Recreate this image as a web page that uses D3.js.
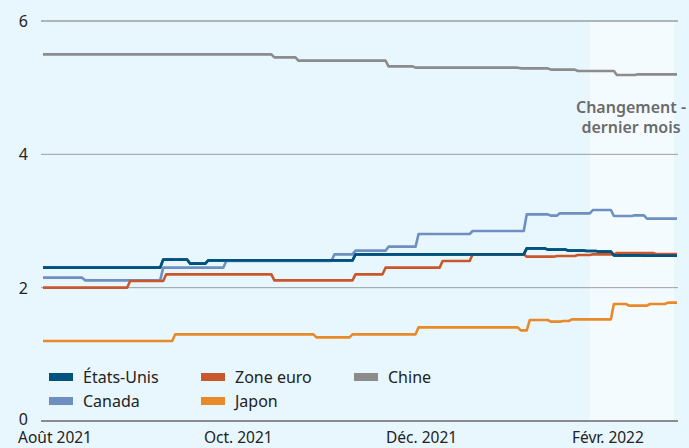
<!DOCTYPE html>
<html><head><meta charset="utf-8">
<script src="https://cdn.jsdelivr.net/npm/d3@7"></script>
<style>
html,body{margin:0;padding:0;background:#e8f6fd;}
svg{display:block;font-family:"Noto Sans",sans-serif;}
</style></head>
<body>
<svg id="chart" width="689" height="448"></svg>
<script>
// ---- data (change dates and levels, in %) ----
const startDate = "2021-07-28";
const endDate = "2022-02-24";
const bandStart = "2022-01-26";
const bandEnd = "2022-02-23";

const usDates   = ["2021-07-28","2021-09-05","2021-09-14","2021-09-20","2021-11-08","2022-01-04","2022-01-11","2022-01-18","2022-01-24","2022-01-28","2022-02-02","2022-02-12"];
const usValues  = [2.30,2.42,2.36,2.41,2.50,2.59,2.57,2.555,2.55,2.54,2.485,2.48];

const euroDates  = ["2021-07-28","2021-08-25","2021-09-06","2021-10-12","2021-11-08","2021-11-18","2021-12-07","2021-12-17","2022-01-04","2022-01-14","2022-01-21","2022-01-26","2022-02-03","2022-02-16"];
const euroValues = [2.00,2.10,2.20,2.11,2.20,2.30,2.40,2.50,2.465,2.475,2.49,2.50,2.52,2.505];

const chinaDates  = ["2021-07-28","2021-10-12","2021-10-20","2021-11-19","2021-11-28","2022-01-02","2022-01-12","2022-01-21","2022-02-03","2022-02-10"];
const chinaValues = [5.50,5.455,5.405,5.32,5.30,5.29,5.27,5.25,5.19,5.20];

const canadaDates  = ["2021-07-28","2021-08-10","2021-09-05","2021-09-26","2021-11-01","2021-11-08","2021-11-19","2021-11-29","2021-12-17","2022-01-04","2022-01-12","2022-01-15","2022-01-26","2022-02-02","2022-02-09","2022-02-13"];
const canadaValues = [2.15,2.11,2.30,2.40,2.50,2.555,2.615,2.805,2.85,3.10,3.08,3.115,3.165,3.075,3.085,3.035];

const japanDates  = ["2021-07-28","2021-09-09","2021-10-26","2021-11-07","2021-11-29","2022-01-02","2022-01-05","2022-01-12","2022-01-16","2022-01-19","2022-02-02","2022-02-07","2022-02-14","2022-02-20"];
const japanValues = [1.20,1.30,1.255,1.30,1.405,1.36,1.515,1.49,1.50,1.525,1.755,1.73,1.755,1.775];

const yTicks = [0,2,4,6];
const xTickDates  = ["2021-08-01","2021-10-01","2021-12-01","2022-02-01"];
const xTickLabels = ["Août 2021","Oct. 2021","Déc. 2021","Févr. 2022"];

const seriesNames  = ["États-Unis","Zone euro","Chine","Canada","Japon"];
const seriesColors = ["#00527e","#c9572b","#8c8c8c","#6f8fc0","#e8892a"];
const annotationLines = ["Changement -","dernier mois"];

// ---- build ----
const parse = d3.utcParse("%Y-%m-%d");
const svg = d3.select("#chart");
const x = d3.scaleUtc().domain([parse(startDate), parse(endDate)]).range([43, 677]);
const y = d3.scaleLinear().domain([0, 6]).range([421, 21]);

// highlight band
svg.append("rect")
  .attr("x", x(parse(bandStart))).attr("y", y(6) + 1)
  .attr("width", x(parse(bandEnd)) - x(parse(bandStart)))
  .attr("height", y(0) - y(6) - 1)
  .attr("fill", "#f4fbff");

// gridlines
svg.append("g").selectAll("line").data(yTicks.filter(d => d > 0)).join("line")
  .attr("x1", 41).attr("x2", 678)
  .attr("y1", d => y(d)).attr("y2", d => y(d))
  .attr("stroke", "#9a9fa4").attr("stroke-width", d => d === 6 ? 1.5 : 1);

// y tick labels
svg.append("g").selectAll("text").data(yTicks).join("text")
  .attr("x", 28).attr("y", d => y(d) + (d === 0 ? 4 : 6))
  .attr("text-anchor", "end").attr("font-size", 16).attr("fill", "#222")
  .text(d => d);

// series
const allSeries = [
  {dates: usDates, values: usValues, color: seriesColors[0]},
  {dates: canadaDates, values: canadaValues, color: seriesColors[3]},
  {dates: chinaDates, values: chinaValues, color: seriesColors[2]},
  {dates: euroDates, values: euroValues, color: seriesColors[1]},
  {dates: japanDates, values: japanValues, color: seriesColors[4]},
  {dates: usDates, values: usValues, color: seriesColors[0]}
];
const DAY = 86400000;
function stepPoints(dates, values) {
  const pts = [];
  for (let i = 0; i < dates.length; i++) {
    const d0 = parse(dates[i]);
    const start = i === 0 ? d0 : new Date(d0.getTime() + DAY);
    const end = i + 1 < dates.length ? parse(dates[i + 1]) : parse(endDate);
    pts.push([start, values[i]]);
    pts.push([end, values[i]]);
  }
  return pts;
}
const line = d3.line().x(p => x(p[0])).y(p => y(p[1]));
svg.append("g").selectAll("path").data(allSeries).join("path")
  .attr("d", s => line(stepPoints(s.dates, s.values)))
  .attr("fill", "none").attr("stroke", s => s.color)
  .attr("stroke-width", 2.6).attr("stroke-linejoin", "round");

// zero axis line
svg.append("line").attr("x1", 41).attr("x2", 678)
  .attr("y1", y(0)).attr("y2", y(0))
  .attr("stroke", "#8a8d90").attr("stroke-width", 2);

// x axis labels
svg.append("g").selectAll("text").data(xTickDates).join("text")
  .attr("x", d => x(parse(d))).attr("y", 443)
  .attr("text-anchor", "middle").attr("font-size", 15.5).attr("fill", "#222")
  .text((d, i) => xTickLabels[i]);

// annotation
svg.append("text").attr("x", 631).attr("y", 113)
  .attr("text-anchor", "middle").attr("font-size", 16).attr("font-weight", 600)
  .attr("fill", "#6b6b6b")
  .selectAll("tspan").data(annotationLines).join("tspan")
  .attr("x", 631).attr("dy", (d, i) => i === 0 ? 0 : 20).text(d => d);

// legend
const legendPos = [[49, 377], [201, 377], [354, 377], [49, 401], [201, 401]];
const lg = svg.append("g").selectAll("g").data(seriesNames).join("g")
  .attr("transform", (d, i) => `translate(${legendPos[i][0]},${legendPos[i][1]})`);
lg.append("rect").attr("x", 0).attr("y", -4).attr("width", 24).attr("height", 8)
  .attr("fill", (d, i) => seriesColors[i]);
lg.append("text").attr("x", 34).attr("y", 6).attr("font-size", 16).attr("fill", "#222")
  .text(d => d);
</script>
</body></html>
